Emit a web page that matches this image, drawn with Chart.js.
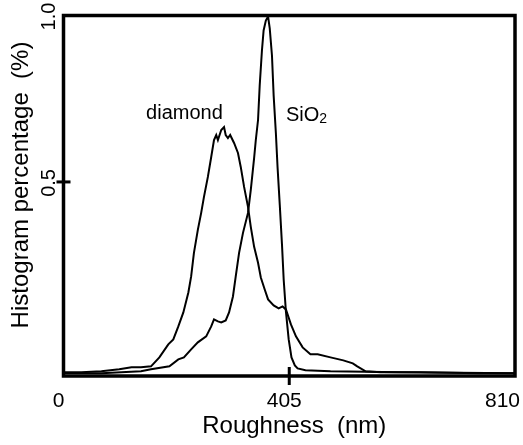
<!DOCTYPE html>
<html>
<head>
<meta charset="utf-8">
<script src="https://cdn.jsdelivr.net/npm/chart.js@4/dist/chart.umd.min.js"></script>
<style>
    html, body { margin: 0; padding: 0; background: #fff; }
    #wrap { width: 523px; height: 445px; position: relative; }
</style>
</head>
<body>
<div id="wrap"><canvas id="histChart"></canvas></div>
<script>
// roughness (nm) and histogram percentage
const diamondRoughness = [0, 32, 68, 100, 122, 139, 157, 172, 188, 197, 206, 215, 224, 229, 234, 241, 247, 252, 259, 265,
    270, 274, 277, 283, 288, 291, 295, 299, 306, 313, 318, 324, 331, 336, 342, 349, 354, 361, 367, 377,
    386, 393, 399, 408, 417, 429, 443, 456, 479, 502, 519, 527, 542, 569, 640, 747, 810];
const diamondPercent = [-0.072, -0.072, -0.069, -0.063, -0.057, -0.057, -0.054, -0.027, 0.012, 0.027, 0.066, 0.108, 0.168, 0.216, 0.287, 0.356, 0.407, 0.455, 0.515, 0.575,
    0.626, 0.641, 0.626, 0.656, 0.665, 0.641, 0.632, 0.641, 0.617, 0.587, 0.545, 0.485, 0.425, 0.365, 0.305, 0.257, 0.213, 0.177, 0.147, 0.129,
    0.120, 0.126, 0.117, 0.072, 0.036, 0.003, -0.018, -0.018, -0.027, -0.036, -0.045, -0.054, -0.069, -0.072, -0.072, -0.075, -0.075];

const sio2Roughness = [0, 68, 139, 157, 190, 206, 216, 229, 241, 256, 265, 270, 277, 283, 291, 297, 304, 309, 315, 322,
    331, 336, 342, 345, 349, 352, 356, 359, 363, 367, 370, 374, 377, 381, 384, 388, 392, 395, 399, 404,
    409, 415, 420, 434, 479, 604, 810];
const sio2Percent = [-0.075, -0.075, -0.069, -0.063, -0.054, -0.033, -0.027, -0.003, 0.018, 0.036, 0.066, 0.087, 0.081, 0.078, 0.084, 0.108, 0.156, 0.216, 0.287, 0.347,
    0.407, 0.476, 0.572, 0.626, 0.686, 0.790, 0.895, 0.955, 0.985, 0.997, 0.961, 0.880, 0.760, 0.647, 0.545, 0.431, 0.311, 0.207, 0.111, 0.027,
    -0.027, -0.051, -0.060, -0.066, -0.069, -0.072, -0.075];

const xTicks = [0, 405, 810];
const yTicks = [0.5, 1.0];
const seriesNames = ['diamond', 'SiO2'];

const FONT = "'Liberation Sans', Arial, sans-serif";

// pair up x/y arrays for the line datasets
const toPoints = (xs, ys) => xs.map((x, i) => ({ x: x, y: ys[i] }));

// frame, crossing tick marks, tick labels, axis titles and curve labels
const framePlugin = {
    id: 'framePlugin',
    afterDatasetsDraw(chart) {
        const { ctx, chartArea: a, scales: { x, y } } = chart;
        ctx.save();
        ctx.strokeStyle = '#000';
        ctx.fillStyle = '#000';

        ctx.lineWidth = 3.5;
        ctx.strokeRect(a.left, a.top, a.right - a.left, a.bottom - a.top);

        // tick marks only where they are not on the frame
        ctx.lineWidth = 3;
        x.ticks.forEach(t => {
            if (t.value <= x.min || t.value >= x.max) return;
            const px = x.getPixelForValue(t.value);
            ctx.beginPath();
            ctx.moveTo(px, a.bottom - 9);
            ctx.lineTo(px, a.bottom + 9);
            ctx.stroke();
        });
        y.ticks.forEach(t => {
            if (t.value >= y.max) return;
            const py = y.getPixelForValue(t.value);
            ctx.beginPath();
            ctx.moveTo(a.left - 7, py);
            ctx.lineTo(a.left + 7, py);
            ctx.stroke();
        });

        // x tick labels (kept inside the canvas at the right end)
        ctx.font = '21px ' + FONT;
        ctx.textAlign = 'center';
        ctx.textBaseline = 'alphabetic';
        x.ticks.forEach(t => {
            const txt = String(t.value);
            const half = ctx.measureText(txt).width / 2;
            const cx = Math.min(x.getPixelForValue(t.value) - 5, chart.width - 3 - half);
            ctx.fillText(txt, cx, a.bottom + 31);
        });

        // y tick labels, rotated
        y.ticks.forEach(t => {
            ctx.save();
            ctx.translate(a.left - 9, y.getPixelForValue(t.value) + 1);
            ctx.rotate(-Math.PI / 2);
            ctx.textAlign = 'center';
            ctx.textBaseline = 'alphabetic';
            ctx.font = '20px ' + FONT;
            ctx.fillText(t.value.toFixed(1), 0, 0);
            ctx.restore();
        });

        // axis titles
        ctx.font = '24px ' + FONT;
        ctx.textAlign = 'center';
        ctx.fillText('Roughness  (nm)', (a.left + a.right) / 2 + 5, a.bottom + 57);
        ctx.save();
        ctx.translate(28, 185);
        ctx.rotate(-Math.PI / 2);
        ctx.fillText('Histogram percentage  (%)', 0, 0);
        ctx.restore();

        // curve labels
        ctx.font = '20px ' + FONT;
        ctx.textAlign = 'center';
        ctx.fillText(seriesNames[0], x.getPixelForValue(217), y.getPixelForValue(0.689));
        ctx.textAlign = 'left';
        const sx = x.getPixelForValue(399);
        const sy = y.getPixelForValue(0.683);
        ctx.fillText('SiO', sx, sy);
        const w = ctx.measureText('SiO').width;
        ctx.font = '14px ' + FONT;
        ctx.fillText('2', sx + w, sy + 2);

        ctx.restore();
    }
};

const lineStyle = {
    borderColor: '#000',
    borderWidth: 2,
    pointRadius: 0,
    tension: 0,
    fill: false
};

const hiddenAxis = {
    type: 'linear',
    grid: { display: false, drawTicks: false, tickLength: 0 },
    border: { display: false },
    ticks: { display: false, padding: 0 }
};

new Chart(document.getElementById('histChart'), {
    type: 'line',
    data: {
        datasets: [
            Object.assign({ label: seriesNames[0], data: toPoints(diamondRoughness, diamondPercent) }, lineStyle),
            Object.assign({ label: seriesNames[1], data: toPoints(sio2Roughness, sio2Percent) }, lineStyle)
        ]
    },
    options: {
        responsive: true,
        maintainAspectRatio: false,
        animation: false,
        devicePixelRatio: 1,
        layout: { padding: { left: 63.5, right: 8, top: 15.5, bottom: 69 } },
        plugins: {
            legend: { display: false },
            tooltip: { enabled: false }
        },
        scales: {
            x: Object.assign({}, hiddenAxis, {
                min: 0,
                max: 810,
                afterBuildTicks: (scale) => { scale.ticks = xTicks.map(v => ({ value: v })); }
            }),
            y: Object.assign({}, hiddenAxis, {
                min: -0.083,
                max: 1.0,
                afterBuildTicks: (scale) => { scale.ticks = yTicks.map(v => ({ value: v })); }
            })
        }
    },
    plugins: [framePlugin]
});
</script>
</body>
</html>
